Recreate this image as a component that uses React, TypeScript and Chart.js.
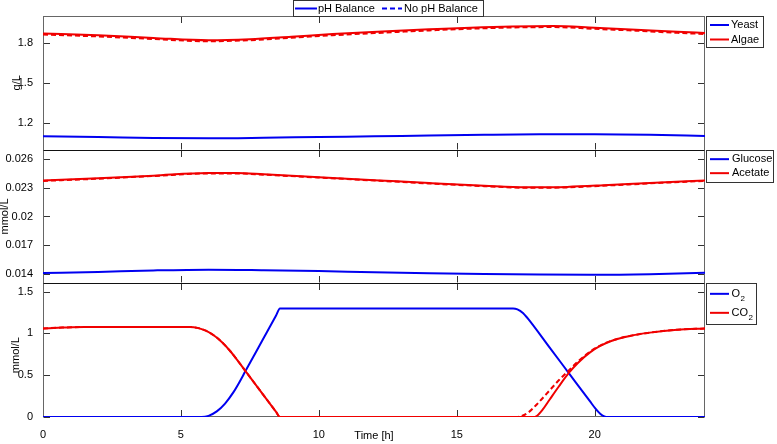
import React, { useEffect, useRef } from "react";
import { Chart, registerables } from "chart.js";

Chart.register(...registerables);

const FONT = "'Liberation Sans', Arial, Helvetica, sans-serif";
const BLUE = "#0000f0";
const RED = "#f00000";

// Tick labels
const X_TICKS = [0, 5, 10, 15, 20];
const BIOMASS_TICKS = [1.2, 1.5, 1.8];
const CONC_TICKS = [0.014, 0.017, 0.02, 0.023, 0.026];
const GAS_TICKS = [0, 0.5, 1, 1.5];

// Panel 1: biomass (g/L)
const YEAST_T = [0, 2, 4, 6, 8, 10, 12, 14, 16, 18, 20, 22, 24];
const YEAST = [1.1, 1.095, 1.088, 1.085, 1.089, 1.095, 1.1, 1.106, 1.111, 1.115, 1.116, 1.112, 1.102];
const ALGAE_T = [0, 2, 4, 6, 7.5, 9, 10.5, 12.3, 14, 15.5, 17, 18.5, 20, 21.5, 23, 24];
const ALGAE = [1.87, 1.856, 1.836, 1.818, 1.826, 1.845, 1.865, 1.884, 1.9, 1.913, 1.922, 1.925, 1.912, 1.898, 1.882, 1.873];
const ALGAE_NOPH = [1.861, 1.847, 1.828, 1.811, 1.819, 1.837, 1.856, 1.875, 1.892, 1.905, 1.914, 1.917, 1.904, 1.89, 1.874, 1.865];

// Panel 2: substrates (mmol/L)
const GLUCOSE_T = [0, 2, 4, 6, 8, 10, 12, 14, 16, 18, 20, 22, 24];
const GLUCOSE = [0.01407, 0.0142, 0.01435, 0.01443, 0.01437, 0.01428, 0.01415, 0.01405, 0.01397, 0.01392, 0.0139, 0.01396, 0.0141];
const ACETATE_T = [0, 2, 4, 6, 7, 8, 10, 12.2, 14, 16, 17.5, 19, 20.5, 22, 24];
const ACETATE = [0.02378, 0.024, 0.02428, 0.02455, 0.02455, 0.02442, 0.02412, 0.02378, 0.0235, 0.02322, 0.02306, 0.0231, 0.0233, 0.02352, 0.02378];
const ACETATE_NOPH = [0.02373, 0.02396, 0.02424, 0.02451, 0.02451, 0.02438, 0.02408, 0.02374, 0.02346, 0.02318, 0.02301, 0.02305, 0.02325, 0.02347, 0.02373];

// Panel 3: gases (mmol/L)
const O2_T = [0, 5.75, 6.0, 6.3, 6.6, 6.9, 7.1, 7.34, 7.98, 8.45, 8.59, 17.04, 17.2, 17.4, 17.56, 18.37, 19.07, 19.82, 20.03, 20.2, 20.35, 20.48, 24];
const O2 = [0, 0, 0.014, 0.067, 0.161, 0.295, 0.405, 0.55, 0.934, 1.216, 1.3, 1.3, 1.289, 1.245, 1.186, 0.83, 0.522, 0.192, 0.1, 0.039, 0.008, 0, 0];
const CO2_T = [0, 0.7, 1.5, 5.33, 5.6, 5.9, 6.2, 6.5, 6.8, 6.955, 7.34, 7.98, 8.45, 8.59, 17.76, 17.9, 18.1, 18.37, 18.7, 19.07, 19.4, 19.82, 20.2, 20.6, 21.27, 22, 23, 24];
const CO2 = [1.06, 1.07, 1.077, 1.077, 1.067, 1.033, 0.975, 0.892, 0.784, 0.72, 0.55, 0.268, 0.062, 0, 0, 0.012, 0.082, 0.21, 0.365, 0.53, 0.65, 0.77, 0.85, 0.91, 0.97, 1.01, 1.045, 1.06];
const CO2_NOPH_T = [0, 0.7, 1.5, 5.33, 5.6, 5.9, 6.2, 6.5, 6.8, 6.955, 7.34, 7.98, 8.45, 8.59, 17.16, 17.35, 17.6, 17.9, 18.37, 18.7, 19.07, 19.4, 19.82, 20.2, 20.6, 21.27, 22, 23, 24];
const CO2_NOPH = [1.06, 1.07, 1.077, 1.077, 1.067, 1.033, 0.975, 0.892, 0.784, 0.72, 0.55, 0.268, 0.062, 0, 0, 0.012, 0.055, 0.15, 0.32, 0.44, 0.56, 0.665, 0.78, 0.855, 0.912, 0.97, 1.01, 1.045, 1.06];

const pts = (t: number[], v: number[]) => t.map((x, i) => ({ x, y: v[i] }));

function series(label: string, t: number[], v: number[], axis: string, color: string, dashed: boolean, order: number) {
  return {
    label,
    data: pts(t, v),
    yAxisID: axis,
    xAxisID: "x",
    borderColor: color,
    backgroundColor: color,
    borderWidth: 2,
    borderDash: dashed ? [5, 3] : [],
    pointRadius: 0,
    cubicInterpolationMode: "monotone" as const,
    fill: false,
    order,
  };
}

type Row = { text: string; sub?: string; color: string; dash?: number[]; y: number; x1: number; x2: number; tx: number };

function drawLegend(ctx: CanvasRenderingContext2D, x: number, y: number, w: number, h: number, rows: Row[]) {
  ctx.save();
  ctx.fillStyle = "#fff";
  ctx.fillRect(x, y, w, h);
  ctx.strokeStyle = "#333";
  ctx.lineWidth = 1;
  ctx.strokeRect(Math.round(x) + 0.5, Math.round(y) + 0.5, Math.round(w), Math.round(h));
  rows.forEach((r) => {
    ctx.strokeStyle = r.color;
    ctx.lineWidth = 2;
    ctx.setLineDash(r.dash || []);
    ctx.beginPath();
    ctx.moveTo(r.x1, r.y);
    ctx.lineTo(r.x2, r.y);
    ctx.stroke();
    ctx.setLineDash([]);
    ctx.fillStyle = "#000";
    ctx.font = `11px ${FONT}`;
    ctx.textBaseline = "middle";
    ctx.textAlign = "left";
    ctx.fillText(r.text, r.tx, r.y);
    if (r.sub) {
      const w0 = ctx.measureText(r.text).width;
      ctx.font = `8px ${FONT}`;
      ctx.fillText(r.sub, r.tx + w0 + 0.5, r.y + 5);
    }
  });
  ctx.restore();
}

const panelsPlugin = {
  id: "panels",
  beforeDatasetsDraw(chart: any) {
    const ctx: CanvasRenderingContext2D = chart.ctx;
    const a = chart.chartArea;
    const L = Math.round(a.left) + 0.5;
    const R = Math.round(a.right) - 0.5;
    const xs = chart.scales.x;
    const ids = ["yB", "yC", "yG"];
    const sets = [BIOMASS_TICKS, CONC_TICKS, GAS_TICKS];
    ctx.save();
    ctx.lineWidth = 1;
    ids.forEach((id, k) => {
      const s = chart.scales[id];
      const T = Math.round(s.top) + 0.5;
      const B = Math.round(s.bottom) - 0.5;
      ctx.strokeStyle = "#333";
      ctx.beginPath();
      X_TICKS.forEach((v) => {
        const px = Math.round(xs.getPixelForValue(v)) + 0.5;
        ctx.moveTo(px, T);
        ctx.lineTo(px, T + 6.5);
        ctx.moveTo(px, B);
        ctx.lineTo(px, B - 6.5);
      });
      sets[k].forEach((v) => {
        const py = Math.round(s.getPixelForValue(v)) + 0.5;
        ctx.moveTo(L, py);
        ctx.lineTo(L + 6.5, py);
        ctx.moveTo(R, py);
        ctx.lineTo(R - 6.5, py);
      });
      ctx.stroke();
    });
    ctx.strokeStyle = "#666";
    ctx.strokeRect(L, Math.round(a.top) + 0.5, R - L, Math.round(a.bottom) - Math.round(a.top) - 1);
    ctx.strokeStyle = "#111";
    ["yC", "yG"].forEach((id) => {
      const y = Math.round(chart.scales[id].top) + 0.5;
      ctx.beginPath();
      ctx.moveTo(L, y);
      ctx.lineTo(R, y);
      ctx.stroke();
    });
    ctx.restore();
  },
  afterDraw(chart: any) {
    const ctx: CanvasRenderingContext2D = chart.ctx;
    const a = chart.chartArea;
    const R = a.right;
    const titles: [string, string, number, number][] = [
      ["yB", "g/L", 17, 0],
      ["yC", "mmol/L", 4.5, 0],
      ["yG", "mmol/L", 15.5, 5],
    ];
    ctx.save();
    ctx.fillStyle = "#000";
    ctx.font = `11px ${FONT}`;
    ctx.textAlign = "center";
    ctx.textBaseline = "middle";
    titles.forEach(([id, text, x, dy]) => {
      const s = chart.scales[id];
      const cy = (s.top + s.bottom) / 2 + dy;
      ctx.save();
      ctx.translate(x, cy);
      ctx.rotate(-Math.PI / 2);
      ctx.fillText(text, 0, 0);
      ctx.restore();
    });
    ctx.restore();

    drawLegend(ctx, 293, 0, 190, 16, [
      { text: "pH Balance", color: BLUE, y: 8.5, x1: 295, x2: 317, tx: 318 },
      { text: "No pH Balance", color: BLUE, dash: [5, 3], y: 8.5, x1: 382, x2: 402, tx: 404 },
    ]);

    const sB = chart.scales.yB;
    const sC = chart.scales.yC;
    const sG = chart.scales.yG;
    const x0 = R + 1;
    drawLegend(ctx, x0, sB.top, 57, 31, [
      { text: "Yeast", color: BLUE, y: sB.top + 9, x1: R + 5, x2: R + 24, tx: R + 26 },
      { text: "Algae", color: RED, y: sB.top + 23.5, x1: R + 5, x2: R + 24, tx: R + 26 },
    ]);
    drawLegend(ctx, x0, sC.top, 67, 32, [
      { text: "Glucose", color: BLUE, y: sC.top + 9.5, x1: R + 5, x2: R + 24, tx: R + 27 },
      { text: "Acetate", color: RED, y: sC.top + 23.5, x1: R + 5, x2: R + 24, tx: R + 27 },
    ]);
    drawLegend(ctx, x0, sG.top, 50, 41, [
      { text: "O", sub: "2", color: BLUE, y: sG.top + 10.5, x1: R + 5, x2: R + 24, tx: R + 26.5 },
      { text: "CO", sub: "2", color: RED, y: sG.top + 29.5, x1: R + 5, x2: R + 24, tx: R + 26.5 },
    ]);
  },
};

function yAxis(min: number, max: number, ticks: number[], weight: number) {
  return {
    type: "linear" as const,
    position: "left" as const,
    stack: "panels",
    stackWeight: 1,
    weight,
    min,
    max,
    grid: { display: false },
    border: { display: false },
    afterBuildTicks: (s: any) => {
      s.ticks = ticks.map((v) => ({ value: v }));
    },
    afterFit: (s: any) => {
      s.width = 43;
    },
    ticks: {
      padding: 2,
      color: "#000",
      font: { family: FONT, size: 11 },
      callback: (v: any) => String(v),
    },
  };
}

export default function App() {
  const ref = useRef<HTMLCanvasElement | null>(null);
  useEffect(() => {
    if (!ref.current) return;
    const chart = new Chart(ref.current, {
      type: "line",
      data: {
        datasets: [
          series("Yeast", YEAST_T, YEAST, "yB", BLUE, false, 3),
          series("Algae", ALGAE_T, ALGAE, "yB", RED, false, 2),
          series("Algae (no pH balance)", ALGAE_T, ALGAE_NOPH, "yB", RED, true, 1),
          series("Glucose", GLUCOSE_T, GLUCOSE, "yC", BLUE, false, 3),
          series("Acetate", ACETATE_T, ACETATE, "yC", RED, false, 2),
          series("Acetate (no pH balance)", ACETATE_T, ACETATE_NOPH, "yC", RED, true, 1),
          series("O2", O2_T, O2, "yG", BLUE, false, 3),
          series("CO2", CO2_T, CO2, "yG", RED, false, 2),
          series("CO2 (no pH balance)", CO2_NOPH_T, CO2_NOPH, "yG", RED, true, 1),
        ],
      },
      options: {
        responsive: false,
        animation: false,
        events: [],
        layout: { padding: { left: 0, right: 72, top: 16, bottom: 0 } },
        plugins: { legend: { display: false }, tooltip: { enabled: false }, title: { display: false } },
        scales: {
          x: {
            type: "linear",
            position: "bottom",
            min: 0,
            max: 24,
            grid: { display: false },
            border: { display: false },
            afterBuildTicks: (s: any) => {
              s.ticks = X_TICKS.map((v) => ({ value: v }));
            },
            afterFit: (s: any) => {
              s.height = 27;
            },
            ticks: { padding: 3, color: "#000", maxRotation: 0, font: { family: FONT, size: 11 }, callback: (v: any) => String(v) },
            title: { display: true, text: "Time [h]", color: "#000", font: { family: FONT, size: 11 }, padding: { top: 0, bottom: 1 } },
          },
          yB: yAxis(1.0, 2.0, BIOMASS_TICKS, 3),
          yC: yAxis(0.013, 0.027, CONC_TICKS, 2),
          yG: yAxis(0, 1.6, GAS_TICKS, 1),
        },
      } as any,
      plugins: [panelsPlugin],
    });
    return () => chart.destroy();
  }, []);
  return (
    <div style={{ position: "fixed", left: 0, top: 0, width: 777, height: 444, background: "#fff" }}>
      <canvas ref={ref} width={777} height={444} style={{ display: "block" }} />
    </div>
  );
}
